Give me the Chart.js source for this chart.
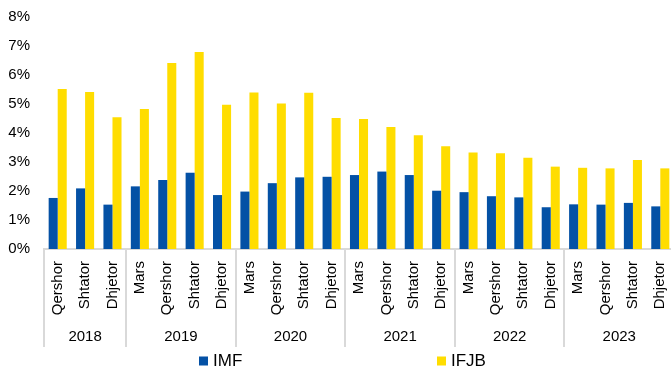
<!DOCTYPE html>
<html>
<head>
<meta charset="utf-8">
<title>IMF dhe IFJB</title>
<script src="https://cdn.jsdelivr.net/npm/chart.js@4.4.1/dist/chart.umd.min.js"></script>
<style>
  html, body { margin: 0; padding: 0; overflow: hidden; background: #fff; }
  canvas { display: block; }
</style>
</head>
<body>
<canvas id="grafiku" width="674" height="373"></canvas>
<script>
// muajt e raportimit, te grupuar sipas viteve
var muajt = [
  "Qershor", "Shtator", "Dhjetor",
  "Mars", "Qershor", "Shtator", "Dhjetor",
  "Mars", "Qershor", "Shtator", "Dhjetor",
  "Mars", "Qershor", "Shtator", "Dhjetor",
  "Mars", "Qershor", "Shtator", "Dhjetor",
  "Mars", "Qershor", "Shtator", "Dhjetor"
];
var vitet = ["2018", "2019", "2020", "2021", "2022", "2023"];
var muajPerVit = [3, 4, 4, 4, 4, 4];

// vlerat ne perqindje
var imf = [1.76, 2.09, 1.53, 2.16, 2.38, 2.63, 1.86, 1.98, 2.27, 2.47, 2.49,
           2.55, 2.67, 2.55, 2.01, 1.96, 1.82, 1.78, 1.44, 1.54, 1.53, 1.59, 1.47];
var ifjb = [5.52, 5.41, 4.54, 4.83, 6.41, 6.79, 4.97, 5.40, 5.02, 5.39, 4.52,
            4.48, 4.21, 3.92, 3.54, 3.33, 3.30, 3.15, 2.84, 2.80, 2.78, 3.07, 2.78];

var boshtiYMin = 0;
var boshtiYMax = 8;
var hapiY = 1;

var ngjyraImf = "#0451A5";
var ngjyraIfjb = "#FFDD00";
var ngjyraVijes = "#d9d9d9";
var fonti = "'Liberation Sans', Arial, sans-serif";

Chart.defaults.font.family = fonti;
Chart.defaults.color = "#000";

// vitet poshte muajve, vijat ndarese dhe legjenda
var grupetVitet = {
  id: "grupetVitet",
  afterDraw: function(chart) {
    var ctx = chart.ctx;
    var x = chart.scales.x;
    var hapi = x.getPixelForValue(1) - x.getPixelForValue(0);
    var fundiVijes = x.top + 98;
    var i0 = 0;

    ctx.save();
    ctx.strokeStyle = ngjyraVijes;
    ctx.lineWidth = 2;
    ctx.fillStyle = "#000";
    ctx.font = "15px " + fonti;
    ctx.textAlign = "center";
    ctx.textBaseline = "middle";

    for (var g = 0; g < vitet.length; g++) {
      var majtas = x.getPixelForValue(i0) - hapi / 2;
      var djathtas = x.getPixelForValue(i0 + muajPerVit[g] - 1) + hapi / 2;
      ctx.beginPath();
      ctx.moveTo(Math.round(majtas), x.top);
      ctx.lineTo(Math.round(majtas), fundiVijes);
      ctx.stroke();
      ctx.fillText(vitet[g], (majtas + djathtas) / 2, x.top + 88);
      i0 += muajPerVit[g];
    }

    // legjenda
    var pozicionet = [199, 437];
    ctx.font = "17px " + fonti;
    ctx.textAlign = "left";
    chart.data.datasets.forEach(function(ds, i) {
      var lx = pozicionet[i];
      var ly = chart.height - 12;
      ctx.fillStyle = ds.backgroundColor;
      ctx.fillRect(lx, ly - 4.5, 9, 9);
      ctx.fillStyle = "#000";
      ctx.fillText(ds.label, lx + 14, ly + 0.5);
    });
    ctx.restore();
  }
};

var ctxGrafiku = document.getElementById("grafiku");
var grafiku = new Chart(ctxGrafiku, {
  type: "bar",
  data: {
    labels: muajt,
    datasets: [
      {
        label: "IMF",
        data: imf,
        backgroundColor: ngjyraImf,
        borderWidth: 0,
        categoryPercentage: 0.66,
        barPercentage: 1
      },
      {
        label: "IFJB",
        data: ifjb,
        backgroundColor: ngjyraIfjb,
        borderWidth: 0,
        categoryPercentage: 0.66,
        barPercentage: 1
      }
    ]
  },
  options: {
    responsive: false,
    animation: false,
    devicePixelRatio: 1,
    layout: { padding: { top: 17, left: 0, right: 0, bottom: 0 } },
    plugins: {
      legend: { display: false },
      tooltip: { enabled: false }
    },
    scales: {
      x: {
        grid: { display: false, drawTicks: false },
        border: { display: true, color: ngjyraVijes, width: 2 },
        ticks: {
          autoSkip: false,
          minRotation: 90,
          maxRotation: 90,
          padding: 12,
          font: { size: 15 },
          color: "#000"
        },
        afterFit: function(scale) {
          scale.height = 124;
          scale.paddingLeft = 0;
          scale.paddingRight = 0;
        }
      },
      y: {
        min: boshtiYMin,
        max: boshtiYMax,
        grid: { display: false, drawTicks: false },
        border: { display: false },
        ticks: {
          stepSize: hapiY,
          padding: 14,
          font: { size: 15 },
          color: "#000",
          callback: function(v) { return v + "%"; }
        },
        afterFit: function(scale) {
          scale.width = 44;
          scale.paddingTop = 0;
          scale.paddingBottom = 0;
        }
      }
    }
  },
  plugins: [grupetVitet]
});
</script>
</body>
</html>
